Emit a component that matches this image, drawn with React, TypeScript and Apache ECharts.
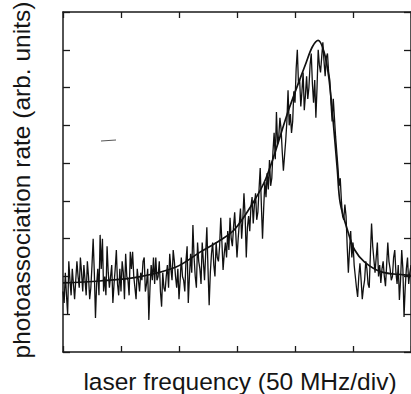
import React, { useEffect, useRef } from "react";
import * as echarts from "echarts";

// x in units of 50 MHz divisions, y in arbitrary units
const xTicks = [0, 1, 2, 3, 4, 5, 6];
const yTicks = [0, 1, 2, 3, 4, 5, 6, 7, 8, 9];

const traceStart = 0;
const traceStep = 0.02;
const traceValues = [
  1.6, 1.3, 2.1, 1.5, 1.0, 2.4, 1.9, 1.5, 2.2, 1.8, 1.4, 1.9, 2.4, 2.0, 1.7, 2.5, 2.1, 1.6, 2.3, 1.9,
  1.5, 2.4, 2.0, 1.4, 1.7, 2.3, 3.0, 2.1, 0.9, 1.8, 2.2, 1.5, 3.1, 2.2, 3.0, 1.6, 2.0, 1.5, 2.8, 2.1,
  1.7, 2.0, 2.3, 1.3, 1.8, 2.2, 2.7, 1.8, 1.5, 2.2, 1.6, 2.4, 2.1, 1.4, 2.6, 2.0, 1.9, 1.5, 2.65, 2.2,
  2.65, 2.0, 1.7, 1.4, 2.2, 1.9, 1.6, 2.1, 1.9, 2.4, 2.5, 1.6, 1.8, 2.2, 0.85, 1.7, 2.3, 1.9, 2.5, 1.8,
  2.5, 1.9, 2.0, 2.4, 1.6, 1.2, 2.1, 1.7, 1.6, 2.0, 2.3, 1.7, 2.6, 2.2, 1.9, 2.7, 2.4, 2.0, 1.7, 2.2,
  1.4, 1.9, 2.5, 2.0, 1.9, 1.6, 2.4, 2.8, 1.3, 2.0, 2.6, 2.1, 3.36, 2.5, 2.0, 1.7, 2.9, 2.4, 2.2, 1.8,
  2.9, 2.4, 1.9, 2.6, 3.3, 2.2, 1.24, 2.1, 2.6, 2.9, 2.3, 2.0, 2.9, 2.5, 2.4, 2.8, 3.55, 2.9, 2.17, 2.6,
  2.9, 2.5, 3.2, 2.7, 3.55, 3.0, 2.8, 3.3, 3.7, 3.1, 2.5, 3.0, 3.4, 3.8, 3.0, 3.5, 4.2, 3.6, 2.5, 3.3,
  3.6, 3.2, 3.84, 4.1, 3.4, 3.9, 4.2, 3.5, 3.7, 4.3, 4.87, 3.9, 3.0, 3.8, 4.5, 4.1, 4.74, 4.3, 5.08, 4.4,
  4.6, 5.3, 5.8, 5.1, 6.35, 5.5, 5.7, 6.2, 5.9, 5.3, 4.8, 5.2, 5.6, 6.1, 6.93, 6.0, 6.3, 5.8, 6.1, 6.9,
  6.6, 7.5, 8.0, 7.1, 7.2, 6.5, 6.9, 7.4, 6.4, 6.8, 7.3, 6.7, 7.0, 7.6, 7.9, 7.1, 6.6, 7.2, 6.2, 7.0,
  8.0, 7.6, 7.4, 7.8, 8.2, 7.7, 7.3, 7.8, 7.9, 7.4, 7.2, 6.6, 6.1, 6.7, 6.2, 5.7, 5.3, 4.9, 4.4, 4.6,
  4.0, 3.6, 3.5, 3.9, 3.6, 2.8, 2.1, 2.7, 3.2, 2.5, 2.9, 2.3, 2.0, 1.7, 1.46, 2.0, 2.35, 1.9, 1.4, 1.7,
  1.9, 2.4, 2.2, 1.8, 1.7, 2.6, 3.4, 2.8, 2.45, 2.1, 2.5, 2.9, 2.0, 2.3, 1.83, 2.2, 2.4, 2.0, 1.74, 2.3,
  2.9, 2.4, 2.2, 1.9, 2.0, 2.5, 2.7, 2.1, 1.8, 2.3, 1.38, 1.9, 2.7, 2.2, 0.93, 1.7, 2.2, 2.5, 1.8, 2.1,
  2.3,
];

const fitX = [0, 0.63, 1.31, 1.95, 2.37, 2.71, 2.95, 3.22, 3.5, 3.9, 4.19, 4.3, 4.4, 4.5, 4.58, 4.65, 4.73, 4.78, 4.92, 5.03, 5.2, 5.49, 5.88, 6];
const fitY = [1.83, 1.88, 1.99, 2.25, 2.65, 2.96, 3.23, 3.81, 4.6, 6.45, 7.65, 8.08, 8.25, 7.95, 7.3, 6.25, 4.82, 3.94, 3.15, 2.7, 2.38, 2.12, 2.04, 2.02];

const xTitle = "laser frequency (50 MHz/div)";
const yTitle = "photoassociation rate (arb. units)";

export default function App() {
  const ref = useRef<HTMLDivElement>(null);
  useEffect(() => {
    if (!ref.current) return;
    const chart = echarts.init(ref.current, undefined, { renderer: "svg" });
    const trace = traceValues.map((v, i) => [traceStart + i * traceStep, v]);
    const fit = fitX.map((x, i) => [x, fitY[i]]);
    const axisCommon = {
      type: "value" as const,
      interval: 1,
      axisLine: { show: true, onZero: false, lineStyle: { color: "#1a1a1a", width: 1.5 } },
      axisTick: { show: true, inside: true, length: 6, lineStyle: { color: "#1a1a1a", width: 1.3 } },
      axisLabel: { show: false },
      splitLine: { show: false },
    };
    chart.setOption({
      animation: false,
      backgroundColor: "#ffffff",
      grid: { left: 63, top: 12, width: 354, height: 340 },
      xAxis: [
        { ...axisCommon, min: xTicks[0], max: xTicks[xTicks.length - 1], position: "bottom" },
        { ...axisCommon, min: xTicks[0], max: xTicks[xTicks.length - 1], position: "top" },
      ],
      yAxis: [
        { ...axisCommon, min: yTicks[0], max: yTicks[yTicks.length - 1], position: "left", axisTick: { ...axisCommon.axisTick, length: 7 } },
        { ...axisCommon, min: yTicks[0], max: yTicks[yTicks.length - 1], position: "right", axisTick: { ...axisCommon.axisTick, length: 7 } },
      ],
      series: [
        {
          type: "line",
          data: trace,
          showSymbol: false,
          lineStyle: { color: "#111111", width: 1.3 },
          z: 2,
        },
        {
          type: "line",
          data: fit,
          smooth: 0.35,
          showSymbol: false,
          lineStyle: { color: "#111111", width: 1.7 },
          z: 3,
        },
      ],
      graphic: [
        {
          type: "text",
          x: 21,
          y: 180,
          rotation: Math.PI / 2,
          style: {
            text: yTitle,
            fontFamily: "Liberation Sans, Arial, sans-serif",
            fontSize: 24.5,
            fill: "#151515",
            align: "center",
            verticalAlign: "middle",
          },
        },
        {
          type: "text",
          x: 240,
          y: 381,
          style: {
            text: xTitle,
            fontFamily: "Liberation Sans, Arial, sans-serif",
            fontSize: 24.5,
            fill: "#151515",
            align: "center",
            verticalAlign: "middle",
          },
        },
        {
          type: "line",
          shape: { x1: 101, y1: 141, x2: 116, y2: 140 },
          style: { stroke: "#555555", lineWidth: 1 },
        },
      ],
    });
    return () => chart.dispose();
  }, []);
  return (
    <div
      ref={ref}
      style={{ position: "fixed", left: 0, top: 0, width: 411, height: 394 }}
    />
  );
}
